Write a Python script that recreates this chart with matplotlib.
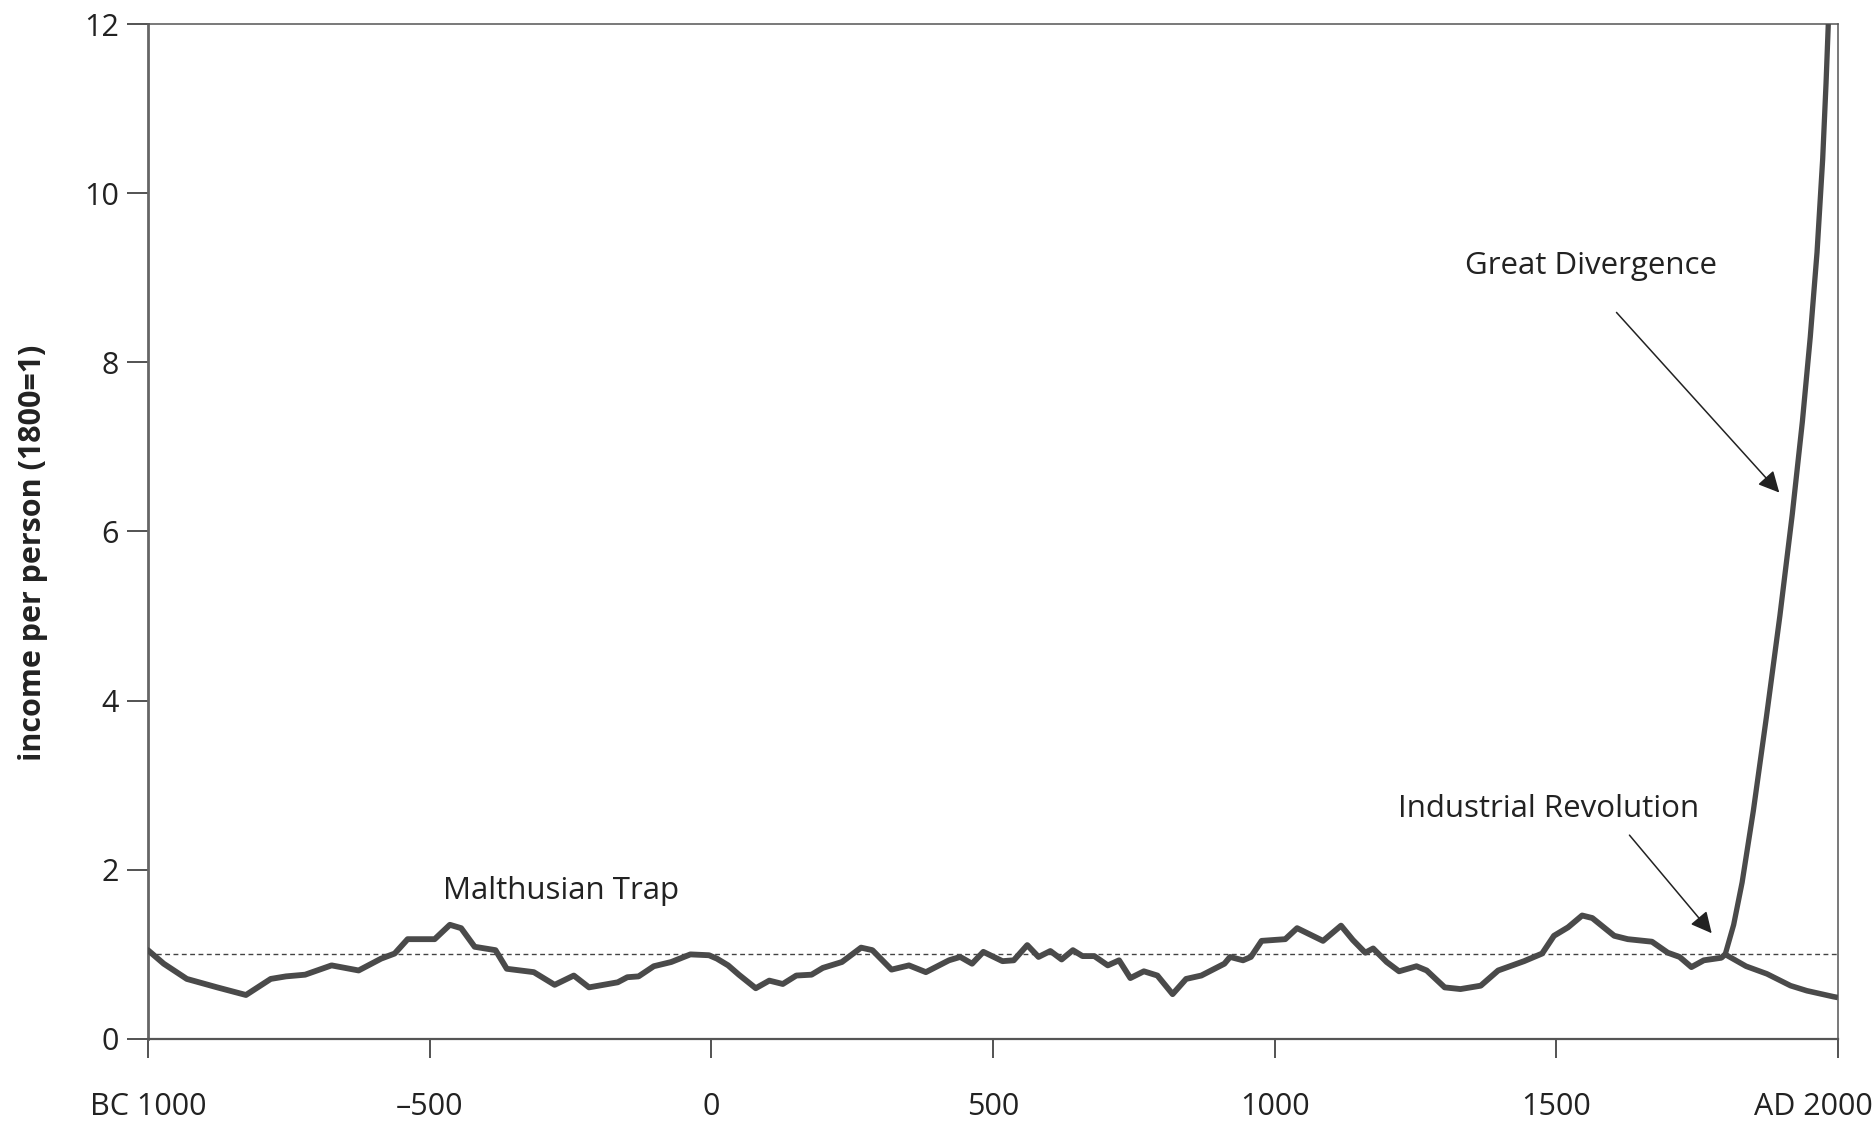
import matplotlib
matplotlib.use("Agg")
import matplotlib.pyplot as plt
import matplotlib.transforms as mtransforms

# ---- data ----
years_main = [-1000, -972, -931, -877, -826, -782, -755, -721, -674, -626, -586, -562,
              -539, -491, -464, -444, -420, -383, -363, -315, -278, -244, -217, -166,
              -149, -129, -102, -71, -37, -4, 10, 30, 49, 79, 103, 127, 151, 178, 198,
              232, 266, 286, 320, 351, 381, 422, 442, 463, 483, 517, 537, 561, 581, 602,
              622, 642, 659, 680, 704, 724, 744, 768, 792, 819, 843, 870, 911, 921, 944,
              958, 977, 1019, 1040, 1086, 1118, 1139, 1161, 1175, 1199, 1221, 1252, 1270,
              1302, 1330, 1366, 1397, 1443, 1475, 1496, 1521, 1546, 1564, 1603, 1627,
              1670, 1698, 1719, 1740, 1762, 1793, 1800]
income_main = [1.05, 0.89, 0.71, 0.61, 0.52, 0.71, 0.74, 0.76, 0.87, 0.81, 0.95, 1.01,
               1.18, 1.18, 1.35, 1.31, 1.09, 1.05, 0.83, 0.79, 0.64, 0.75, 0.61, 0.67,
               0.73, 0.74, 0.86, 0.91, 1.00, 0.99, 0.95, 0.87, 0.76, 0.60, 0.69, 0.65,
               0.75, 0.76, 0.84, 0.91, 1.08, 1.05, 0.82, 0.87, 0.79, 0.93, 0.97, 0.89,
               1.03, 0.92, 0.93, 1.11, 0.97, 1.04, 0.94, 1.05, 0.98, 0.98, 0.87, 0.93,
               0.72, 0.80, 0.75, 0.53, 0.71, 0.75, 0.89, 0.97, 0.93, 0.97, 1.16, 1.18,
               1.31, 1.16, 1.34, 1.17, 1.02, 1.07, 0.91, 0.80, 0.86, 0.81, 0.61, 0.59,
               0.63, 0.81, 0.92, 1.01, 1.22, 1.32, 1.46, 1.43, 1.22, 1.18, 1.15, 1.02,
               0.97, 0.85, 0.93, 0.96, 1.00]

years_diverge = [1800, 1815, 1830, 1850, 1873, 1897, 1919, 1937, 1951, 1963, 1973, 1979, 1983]
income_diverge = [1.00, 1.35, 1.85, 2.70, 3.80, 5.00, 6.20, 7.30, 8.30, 9.30, 10.4, 11.3, 12.0]

years_decline = [1800, 1837, 1874, 1916, 1945, 1992, 2000]
income_decline = [1.00, 0.86, 0.77, 0.63, 0.57, 0.50, 0.49]

xticks = [-1000, -500, 0, 500, 1000, 1500, 2000]
xtick_labels = ["BC 1000", "\u2013500", "0", "500", "1000", "1500", "AD 2000"]
yticks = [0, 2, 4, 6, 8, 10, 12]

# ---- figure ----
plt.rcParams['font.family'] = ['Open Sans', 'DejaVu Sans']
fig = plt.figure(figsize=(18.75, 11.22), dpi=100)
ax = fig.add_axes([0.0789, 0.0740, 0.9013, 0.9046])

line_color = '#4a4a4a'
ax.axhline(1.0, color='#444444', lw=1.0, ls=(0, (3.5, 2.5)), zorder=1)
ax.plot(years_main, income_main, color=line_color, lw=4.2, solid_joinstyle='round',
        solid_capstyle='round', zorder=3)
ax.plot(years_decline, income_decline, color=line_color, lw=4.0, solid_joinstyle='round',
        solid_capstyle='butt', zorder=3)
ax.plot(years_diverge, income_diverge, color=line_color, lw=3.8, solid_joinstyle='round',
        solid_capstyle='butt', zorder=3)

ax.set_xlim(-1000, 2000)
ax.set_ylim(0, 12)
ax.set_xticks(xticks)
ax.set_xticklabels(xtick_labels)
ax.set_yticks(yticks)

for side in ['top', 'right']:
    ax.spines[side].set_linewidth(1.1)
    ax.spines[side].set_color('#555555')
ax.spines['left'].set_linewidth(2.0)
ax.spines['left'].set_color('#666666')
ax.spines['bottom'].set_linewidth(1.6)
ax.spines['bottom'].set_color('#555555')

ax.tick_params(axis='x', direction='out', length=14, width=1.3, color='#444444',
               pad=24, labelsize=22, labelcolor='#222222')
ax.tick_params(axis='y', direction='out', length=15, width=1.3, color='#444444',
               pad=6, labelsize=22, labelcolor='#222222')

# shift last x tick label left so it stays inside the canvas
last = ax.get_xticklabels()[-1]
last.set_transform(last.get_transform() +
                   mtransforms.ScaledTranslation(-0.24, 0, fig.dpi_scale_trans))

ax.set_ylabel('income per person (1800=1)', fontsize=22, fontweight='bold', color='#222222')
ax.yaxis.set_label_coords(-0.059, 0.479)

arrow_kw = dict(arrowstyle='-|>', color='#222222', lw=1.1, mutation_scale=32,
                shrinkA=0, shrinkB=0)
ax.annotate('', xy=(1896, 6.46), xytext=(1607, 8.59), arrowprops=arrow_kw)
ax.annotate('', xy=(1776, 1.25), xytext=(1630, 2.41), arrowprops=arrow_kw)

ax.text(1562, 9.04, 'Great Divergence', ha='center', va='baseline', fontsize=22.5, color='#222222')
ax.text(1487, 2.63, 'Industrial Revolution', ha='center', va='baseline', fontsize=22.5, color='#222222')
ax.text(-266, 1.66, 'Malthusian Trap', ha='center', va='baseline', fontsize=22.5, color='#222222')

fig.savefig('out.png', dpi=100, facecolor='white')
